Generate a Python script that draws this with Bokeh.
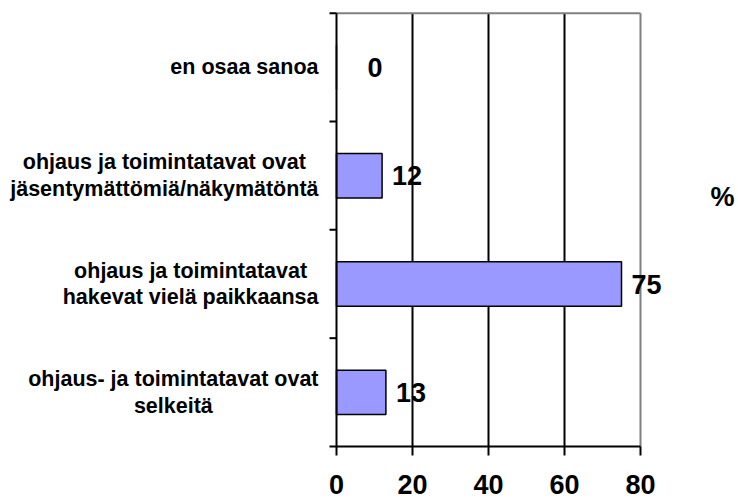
import math
from bokeh.plotting import figure
from bokeh.models import Range1d, Label, ColumnDataSource
from bokeh.core.properties import value
from bokeh.embed import file_html
from bokeh.resources import INLINE

# data (bottom to top)
categories = [
    "ohjaus- ja toimintatavat ovat\nselkeitä",
    "ohjaus ja toimintatavat\nhakevat vielä paikkaansa",
    "ohjaus ja toimintatavat ovat\njäsentymättömiä/näkymätöntä",
    "en osaa sanoa",
]
percent = [13, 75, 12, 0]
x_ticks = [0, 20, 40, 60, 80]
unit_label = "%"

# style / layout
label_dx = [10, 10, 10, 31]   # px offset of value labels
FONT = "Liberation Sans"
W, H = 738, 501
AXIS_PX, END_PX = 336, 640    # pixel column of first and last x tick
TOP_PX, BASE_PX = 12.7, 446   # pixel row of plot top and of the x axis

n = len(categories)
per_x = (END_PX - AXIS_PX) / (x_ticks[-1] - x_ticks[0])
per_y = (BASE_PX - TOP_PX) / n
x_lo = x_ticks[0] - AXIS_PX / per_x
x_hi = x_ticks[0] + (W - AXIS_PX) / per_x
y_lo = -(H - BASE_PX) / per_y
y_hi = BASE_PX / per_y

pos = [i + 0.5 for i in range(n)]
bounds = list(range(n + 1))

src = ColumnDataSource(dict(y=pos, v=percent, t=[str(v) for v in percent], dx=label_dx))
cat_src = ColumnDataSource(dict(y=pos, name=categories, x=[x_ticks[0]] * n))
tick_src = ColumnDataSource(dict(x=x_ticks, y=[0] * len(x_ticks), t=[str(t) for t in x_ticks]))

p = figure(width=W, height=H, output_backend="svg", toolbar_location=None,
           x_range=Range1d(x_lo, x_hi), y_range=Range1d(y_lo, y_hi),
           x_axis_location=None, y_axis_location=None,
           min_border_left=0, min_border_right=0, min_border_top=0, min_border_bottom=0,
           background_fill_color="white", border_fill_color="white")
p.outline_line_color = None
p.grid.visible = False

# grid lines, borders
gx = x_ticks[1:-1]
p.segment(x0=gx, y0=[0] * len(gx), x1=gx, y1=[n] * len(gx), line_color="black", line_width=2)
p.segment(x0=[x_ticks[0]], y0=[n], x1=[x_ticks[-1]], y1=[n], line_color="#808080", line_width=2)
p.segment(x0=[x_ticks[-1]], y0=[0], x1=[x_ticks[-1]], y1=[n], line_color="#808080", line_width=2)

# bars
p.hbar(y="y", left=x_ticks[0], right="v", height=0.41, source=src,
       fill_color="#9999FF", line_color="black", line_width=1.5)

# y axis line and boundary ticks
p.segment(x0=[x_ticks[0]], y0=[0], x1=[x_ticks[0]], y1=[n], line_color="black", line_width=2)
p.ray(x=[x_ticks[0]] * (n + 1), y=bounds, length=7, length_units="screen", angle=math.pi,
      line_color="black", line_width=2)

# x axis line, ticks, tick labels
p.segment(x0=[x_ticks[0]], y0=[0], x1=[x_ticks[-1]], y1=[0], line_color="black", line_width=2)
p.ray(x="x", y="y", source=tick_src, length=9, length_units="screen", angle=-math.pi / 2,
      line_color="black", line_width=2)
p.text(x="x", y="y", text="t", source=tick_src, y_offset=38,
       text_align="center", text_baseline="alphabetic",
       text_font=value(FONT), text_font_style="bold", text_font_size="27px",
       text_color="black")

# category labels
p.text(x="x", y="y", text="name", source=cat_src, x_offset=-18,
       anchor=value("center_right"), text_align="center", text_baseline="middle",
       text_font=value(FONT), text_font_style="bold", text_font_size="21.5px",
       text_line_height=1.1, text_color="black")

# value labels
p.text(x="v", y="y", text="t", x_offset="dx", source=src,
       text_font=value(FONT), text_font_style="bold", text_font_size="27px",
       text_baseline="middle", text_align="left", text_color="black")

p.add_layout(Label(x=x_ticks[-1], x_offset=70, y=2.3, x_units="data", y_units="data",
                   text=unit_label, text_font=FONT, text_font_style="bold",
                   text_font_size="27px", text_baseline="middle", text_align="left",
                   text_color="black"))

open("out.html", "w").write(file_html(p, INLINE))
